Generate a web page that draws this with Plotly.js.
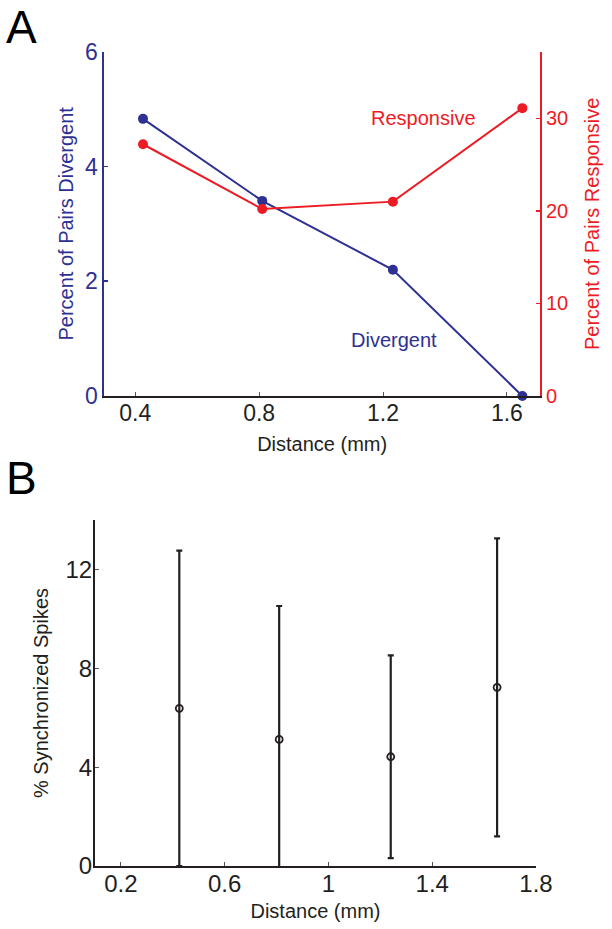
<!DOCTYPE html>
<html>
<head>
<meta charset="utf-8">
<script src="https://cdn.plot.ly/plotly-3.0.1.min.js"></script>
<style>html,body{margin:0;padding:0;background:#fff}#chart{width:612px;height:929px}</style>
</head>
<body>
<div id="chart"></div>
<script>
// Panel A data
const distanceA = [0.425, 0.81, 1.232, 1.65];
const pctDivergent = [4.83, 3.40, 2.20, 0.0];
const pctResponsive = [27.2, 20.2, 21.0, 31.1];
const xTicksA = [0.4, 0.8, 1.2, 1.6];
const xTickLabelsA = ["0.4", "0.8", "1.2", "1.6"];
const yTicksDiv = [0, 2, 4, 6];
const yTicksResp = [0, 10, 20, 30];

// Panel B data
const distanceB = [0.425, 0.81, 1.24, 1.65];
const pctSync = [6.38, 5.12, 4.42, 7.23];
const syncErr = [6.38, 5.40, 4.10, 6.03];
const xTicksB = [0.2, 0.6, 1.0, 1.4, 1.8];
const xTickLabelsB = ["0.2", "0.6", "1", "1.4", "1.8"];
const yTicksB = [0, 4, 8, 12];

const BLUE = "#2e3192";
const RED = "#ed1c24";
const DARK = "#231f20";
const FONT = "Liberation Sans, Arial, Helvetica, sans-serif";

const traces = [
  {x: distanceA, y: pctDivergent, xaxis: "x", yaxis: "y", mode: "lines+markers",
   line: {color: BLUE, width: 2}, marker: {color: BLUE, size: 10}, cliponaxis: false, name: "Divergent"},
  {x: distanceA, y: pctResponsive, xaxis: "x", yaxis: "y2", mode: "lines+markers",
   line: {color: RED, width: 2}, marker: {color: RED, size: 10}, cliponaxis: false, name: "Responsive"},
  {x: distanceB, y: pctSync, xaxis: "x2", yaxis: "y3", mode: "markers",
   marker: {symbol: "circle-open", color: DARK, size: 7, line: {width: 1.8, color: DARK}},
   error_y: {type: "data", array: syncErr, symmetric: true, color: DARK, thickness: 2.2, width: 3},
   cliponaxis: true, name: "Sync"}
];

const layout = {
  width: 612, height: 929,
  margin: {l: 0, r: 0, t: 0, b: 0},
  paper_bgcolor: "#fff", plot_bgcolor: "rgba(0,0,0,0)",
  showlegend: false,
  font: {family: FONT, color: DARK},
  xaxis: {
    domain: [104.3/612, 540/612], anchor: "y", range: [0.3, 1.707],
    tickvals: xTicksA, ticktext: xTickLabelsA, ticks: "inside", ticklen: 4, tickwidth: 1, tickcolor: "#555",
    ticklabelstandoff: -5,
    showline: true, linecolor: DARK, linewidth: 2, showgrid: false, zeroline: false,
    tickfont: {size: 23, color: DARK, family: FONT},
    title: {text: "Distance (mm)", font: {size: 20, color: DARK, family: FONT}, standoff: 12},
    automargin: false, fixedrange: true
  },
  yaxis: {
    domain: [1 - 396/929, 1 - 51.7/929], anchor: "x", range: [0, 6],
    tickvals: yTicksDiv, ticks: "inside", ticklen: 4, tickwidth: 1.5, tickcolor: BLUE,
    showline: true, linecolor: BLUE, linewidth: 2, showgrid: false, zeroline: false,
    tickfont: {size: 23, color: BLUE, family: FONT},
    title: {text: "Percent of Pairs Divergent", font: {size: 20, color: BLUE, family: FONT}, standoff: 6},
    automargin: false, fixedrange: true
  },
  yaxis2: {
    overlaying: "y", side: "right", anchor: "x", range: [0, 37.2],
    tickvals: yTicksResp, ticks: "inside", ticklen: 4, tickwidth: 1.5, tickcolor: RED,
    showline: true, linecolor: RED, linewidth: 2, showgrid: false, zeroline: false,
    tickfont: {size: 20, color: RED, family: FONT},
    title: {text: "Percent of Pairs Responsive", font: {size: 20, color: RED, family: FONT}, standoff: 18},
    automargin: false, fixedrange: true
  },
  xaxis2: {
    domain: [95/612, 536/612], anchor: "y3", range: [0.1, 1.8],
    tickvals: xTicksB, ticktext: xTickLabelsB, ticks: "inside", ticklen: 4, tickwidth: 1, tickcolor: "#555",
    ticklabelstandoff: -5,
    showline: true, linecolor: DARK, linewidth: 2, showgrid: false, zeroline: false,
    tickfont: {size: 24, color: DARK, family: FONT},
    title: {text: "Distance (mm)", font: {size: 20, color: DARK, family: FONT}, standoff: 8},
    automargin: false, fixedrange: true
  },
  yaxis3: {
    domain: [1 - 866/929, 1 - 520/929], anchor: "x2", range: [0, 14],
    tickvals: yTicksB, ticks: "inside", ticklen: 4, tickwidth: 1, tickcolor: "#555",
    ticklabelstandoff: -4,
    showline: true, linecolor: DARK, linewidth: 2, showgrid: false, zeroline: false,
    tickfont: {size: 24, color: DARK, family: FONT},
    title: {text: "% Synchronized Spikes", font: {size: 20, color: DARK, family: FONT}, standoff: 11},
    automargin: false, fixedrange: true
  },
  annotations: [
    {text: "A", xref: "paper", yref: "paper", x: 21/612, y: 1 - 27/929, xanchor: "center", yanchor: "middle",
     showarrow: false, font: {size: 46, color: "#000", family: FONT}},
    {text: "B", xref: "paper", yref: "paper", x: 21/612, y: 1 - 478/929, xanchor: "center", yanchor: "middle",
     showarrow: false, font: {size: 46, color: "#000", family: FONT}},
    {text: "Responsive", xref: "paper", yref: "paper", x: 423/612, y: 1 - 118/929, xanchor: "center", yanchor: "middle",
     showarrow: false, font: {size: 20, color: RED, family: FONT}},
    {text: "Divergent", xref: "paper", yref: "paper", x: 394/612, y: 1 - 340/929, xanchor: "center", yanchor: "middle",
     showarrow: false, font: {size: 20, color: BLUE, family: FONT}}
  ]
};

Plotly.newPlot("chart", traces, layout, {displayModeBar: false, staticPlot: true});
</script>
</body>
</html>
